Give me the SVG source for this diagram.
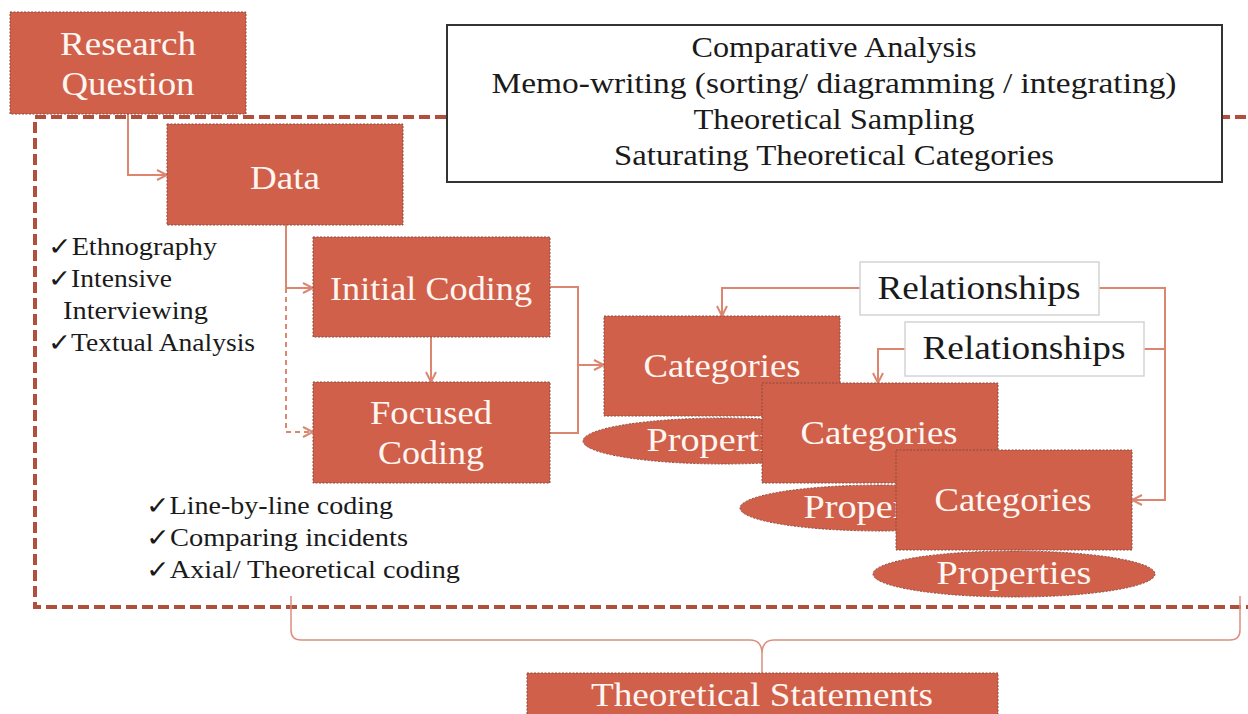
<svg xmlns="http://www.w3.org/2000/svg" width="1248" height="714" viewBox="0 0 1248 714">
<style>
.box{fill:#D0604A;stroke:#8a4a3c;stroke-width:1;stroke-dasharray:2 1.5}
.lbl{font-family:"Liberation Serif","DejaVu Serif","Noto Serif",serif;font-size:34px;fill:#FFF6F2;text-anchor:middle}
.blk{font-family:"Liberation Serif","DejaVu Serif","Noto Serif",serif;fill:#1a1a1a}
.rel{fill:#fff;stroke:#d4d4d4;stroke-width:1.5}
.con{fill:none;stroke:#DC8670;stroke-width:2}
.dash{stroke-dasharray:5 4}
.frame{fill:none;stroke:#B0503C;stroke-width:4;stroke-dasharray:11 5}
.brace{fill:none;stroke:#DC8F7E;stroke-width:1.5}
</style>
<defs>
<marker id="arr" viewBox="0 0 12 12" refX="11" refY="6" markerWidth="12" markerHeight="12" markerUnits="userSpaceOnUse" orient="auto">
<path d="M1,1 L11,6 L1,11" fill="none" stroke="#DC8670" stroke-width="2"/>
</marker>
</defs>
<rect width="1248" height="714" fill="#fff"/>
<rect class="frame" x="35" y="117" width="1230" height="490"/>

<g id="top-box">
<rect x="447" y="25" width="775" height="157" fill="#fff" stroke="#333" stroke-width="2"/>
<g class="blk" font-size="29" text-anchor="middle" lengthAdjust="spacingAndGlyphs">
<text x="834" y="57" textLength="285" lengthAdjust="spacingAndGlyphs">Comparative Analysis</text>
<text x="834" y="93" textLength="685" lengthAdjust="spacingAndGlyphs">Memo-writing (sorting/ diagramming / integrating)</text>
<text x="834" y="129" textLength="281" lengthAdjust="spacingAndGlyphs">Theoretical Sampling</text>
<text x="834" y="165" textLength="440" lengthAdjust="spacingAndGlyphs">Saturating Theoretical Categories</text>
</g>
</g>

<g id="connectors">
<path class="con" d="M128,114 V175 H167" marker-end="url(#arr)"/>
<path class="con" d="M286,225 V288 H313" marker-end="url(#arr)"/>
<path class="con dash" d="M286,288 V432 H313" marker-end="url(#arr)"/>
<path class="con" d="M431,337 V382" marker-end="url(#arr)"/>
<path class="con" d="M550,287 H578 V433 H550"/>
<path class="con" d="M578,365 H604" marker-end="url(#arr)"/>
<path class="con" d="M860,288 H722 V316" marker-end="url(#arr)"/>
<path class="con" d="M905,349 H878 V383" marker-end="url(#arr)"/>
<path class="con" d="M1099,288 H1165 V500 H1132" marker-end="url(#arr)"/>
<path class="con" d="M1144,349 H1165"/>
<path class="brace" d="M291,596 V630 Q291,640 301,640 H750 Q762,640 762,654 V673 M762,654 Q762,640 774,640 H1230 Q1240,640 1240,630 V596"/>
</g>

<g id="research-question">
<rect class="box" x="10" y="12" width="236" height="102"/>
<text class="lbl" x="128" y="55" textLength="136" lengthAdjust="spacingAndGlyphs">Research</text>
<text class="lbl" x="128" y="95" textLength="133" lengthAdjust="spacingAndGlyphs">Question</text>
</g>
<g id="data">
<rect class="box" x="167" y="124" width="236" height="101"/>
<text class="lbl" x="285" y="189" textLength="70" lengthAdjust="spacingAndGlyphs">Data</text>
</g>
<g id="data-methods" class="blk" font-size="25">
<text x="48" y="255" textLength="169" lengthAdjust="spacingAndGlyphs">✓Ethnography</text>
<text x="48" y="287" textLength="124" lengthAdjust="spacingAndGlyphs">✓Intensive</text>
<text x="63" y="319" textLength="145" lengthAdjust="spacingAndGlyphs">Interviewing</text>
<text x="48" y="351" textLength="207" lengthAdjust="spacingAndGlyphs">✓Textual Analysis</text>
</g>
<g id="initial-coding">
<rect class="box" x="313" y="237" width="237" height="100"/>
<text class="lbl" x="431" y="300" textLength="202" lengthAdjust="spacingAndGlyphs">Initial Coding</text>
</g>
<g id="focused-coding">
<rect class="box" x="313" y="382" width="237" height="101"/>
<text class="lbl" x="431" y="424" textLength="122" lengthAdjust="spacingAndGlyphs">Focused</text>
<text class="lbl" x="431" y="464" textLength="106" lengthAdjust="spacingAndGlyphs">Coding</text>
</g>
<g id="coding-methods" class="blk" font-size="25">
<text x="146" y="514" textLength="247" lengthAdjust="spacingAndGlyphs">✓Line-by-line coding</text>
<text x="146" y="546" textLength="262" lengthAdjust="spacingAndGlyphs">✓Comparing incidents</text>
<text x="146" y="578" textLength="314" lengthAdjust="spacingAndGlyphs">✓Axial/ Theoretical coding</text>
</g>
<g id="categories-1">
<rect class="box" x="604" y="316" width="236" height="100"/>
<text class="lbl" x="722" y="377" textLength="157" lengthAdjust="spacingAndGlyphs">Categories</text>
</g>
<g id="properties-1">
<ellipse class="box" cx="724" cy="441" rx="141" ry="23"/>
<text class="lbl" x="724" y="451" textLength="155" lengthAdjust="spacingAndGlyphs">Properties</text>
</g>
<g id="categories-2">
<rect class="box" x="762" y="383" width="236" height="100"/>
<text class="lbl" x="879" y="444" textLength="157" lengthAdjust="spacingAndGlyphs">Categories</text>
</g>
<g id="properties-2">
<ellipse class="box" cx="881" cy="508" rx="141" ry="23"/>
<text class="lbl" x="881" y="518" textLength="155" lengthAdjust="spacingAndGlyphs">Properties</text>
</g>
<g id="categories-3">
<rect class="box" x="896" y="450" width="236" height="100"/>
<text class="lbl" x="1013" y="511" textLength="157" lengthAdjust="spacingAndGlyphs">Categories</text>
</g>
<g id="properties-3">
<ellipse class="box" cx="1014" cy="574" rx="141" ry="23"/>
<text class="lbl" x="1014" y="584" textLength="155" lengthAdjust="spacingAndGlyphs">Properties</text>
</g>
<g id="relationships-1">
<rect class="rel" x="860" y="262" width="239" height="53"/>
<text class="blk" font-size="34" text-anchor="middle" x="979" y="299" textLength="203" lengthAdjust="spacingAndGlyphs">Relationships</text>
</g>
<g id="relationships-2">
<rect class="rel" x="905" y="322" width="239" height="54"/>
<text class="blk" font-size="34" text-anchor="middle" x="1024" y="359" textLength="203" lengthAdjust="spacingAndGlyphs">Relationships</text>
</g>
<g id="theoretical-statements">
<rect class="box" x="527" y="673" width="471" height="50"/>
<text class="lbl" font-size="33" x="762" y="706" textLength="342" lengthAdjust="spacingAndGlyphs">Theoretical Statements</text>
</g>
</svg>
